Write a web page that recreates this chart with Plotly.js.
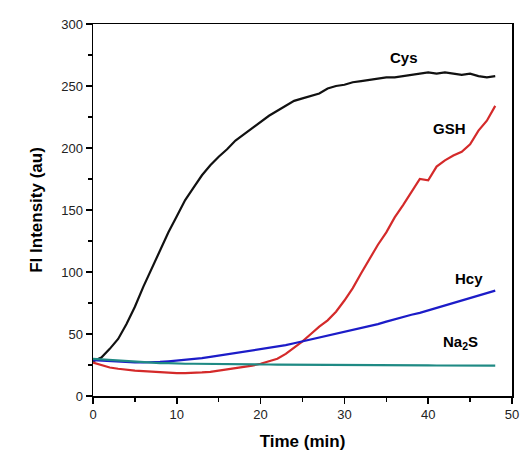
<!DOCTYPE html>
<html>
<head>
<meta charset="utf-8">
<script src="https://cdn.plot.ly/plotly-3.0.1.min.js"></script>
<style>html,body{margin:0;padding:0;background:#fff;}#chart{width:520px;height:455px;}</style>
</head>
<body>
<div id="chart"></div>
<script>
const time = [0,1,2,3,4,5,6,7,8,9,10,11,12,13,14,15,16,17,18,19,20,21,22,23,24,25,26,27,28,29,30,31,32,33,34,35,36,37,38,39,40,41,42,43,44,45,46,47,48];
const cys = [28,31,38,46,58,72,88,103,117,132,145,158,168,178,186,193,199,206,211,216,221,226,230,234,238,240,242,244,248,250,251,253,254,255,256,257,257,258,259,260,261,260,261,260,259,260,258,257,258];
const gsh = [27,25,23,22,21,20.5,20,19.5,19,19,18.5,18.5,18.5,19,19.5,20.5,21,22,23,24.5,26,28,30,34,39,44,50,56,61,68,77,87,99,111,122,132,144,154,164,175,174,185,190,194,197,203,214,222,234];
const hcy = [29,28.5,28,27.5,27,27,27,27,27.5,28,28.5,29,29.5,30.5,31.5,32.5,33.5,34.5,35.5,36.5,37.5,38.5,39.5,41,42.5,44,45.5,47,49,50.5,52,53.5,55,56.5,58,60,62,64,65.5,67,69,71,73,75,77,79,81,83,85];
const na2s = [30,29.5,29,28.5,28,27.5,27,27,26.5,26.5,26,26,26,26,25.8,25.8,25.7,25.6,25.5,25.5,25.4,25.4,25.3,25.3,25.2,25.2,25.1,25.1,25,25,25,25,24.9,24.9,24.9,24.8,24.8,24.8,24.7,24.7,24.7,24.6,24.6,24.6,24.5,24.5,24.5,24.5,24.5];
const seriesNames = ["Cys","GSH","Hcy","Na<sub>2</sub>S"];
const seriesColors = ["#111111","#d42a2a","#1c1cc8","#1f8a84"];
const labelX = [37.1,42.6,44.9,43.8];
const labelY = [273,216,95,43];

const ys = [cys,gsh,hcy,na2s];
const traces = ys.map((y,i)=>({
  x: time, y: y, type:'scatter', mode:'lines',
  line:{color:seriesColors[i], width:2.2}, name:seriesNames[i], showlegend:false
}));

const annotations = seriesNames.map((n,i)=>({
  x: labelX[i], y: labelY[i], xref:'x', yref:'y', text:n, showarrow:false,
  font:{family:'Liberation Sans, Arial, sans-serif', size:15, color:'#000', weight:'bold'}
}));

const axisCommon = {
  showgrid:false, zeroline:false, showline:true, linecolor:'#000', linewidth:1.5,
  mirror:true, ticks:'outside', ticklen:6, tickwidth:1.5, tickcolor:'#000',
  tickfont:{family:'Liberation Sans, Arial, sans-serif', size:13, color:'#222'}
};

const layout = {
  width:520, height:455,
  margin:{l:93, r:8, t:24, b:59},
  paper_bgcolor:'#ffffff', plot_bgcolor:'#ffffff',
  xaxis: Object.assign({}, axisCommon, {
    range:[0,50], dtick:10, tick0:0,
    minor:{ticks:'outside', dtick:5, ticklen:4, tickwidth:1.5, tickcolor:'#000'},
    title:{text:'<b>Time (min)</b>', standoff:14, font:{family:'Liberation Sans, Arial, sans-serif', size:17, color:'#000'}}
  }),
  yaxis: Object.assign({}, axisCommon, {
    range:[0,300], dtick:50, tick0:0,
    minor:{ticks:'outside', dtick:25, ticklen:4, tickwidth:1.5, tickcolor:'#000'},
    title:{text:'<b>FI Intensity (au)</b>', standoff:14, font:{family:'Liberation Sans, Arial, sans-serif', size:17, color:'#000'}}
  }),
  annotations: annotations
};

Plotly.newPlot('chart', traces, layout, {displayModeBar:false, staticPlot:true});
</script>
</body>
</html>
